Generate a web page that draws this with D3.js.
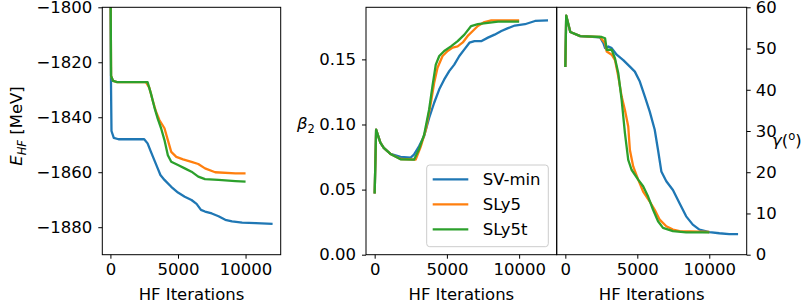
<!DOCTYPE html>
<html><head><meta charset="utf-8">
<script src="https://cdn.jsdelivr.net/npm/d3@7"></script>
<style>
body{margin:0;background:#fff;}
svg{display:block;font-family:"DejaVu Sans",sans-serif;}
</style></head><body>
<svg id="c" width="809" height="305"></svg>
<script>
// ---- data ----
const seriesNames = ["SV-min","SLy5","SLy5t"];
const colors = ["#1f77b4","#ff7f0e","#2ca02c"];
const xTicks = [0,5000,10000];
const eTicks = [-1800,-1820,-1840,-1860,-1880];
const bTicks = [0.00,0.05,0.10,0.15];
const gTicks = [0,10,20,30,40,50,60];

// E_HF [MeV] vs HF iterations
const eSVmin = [[0,-1780],[40,-1826],[80,-1845],[250,-1847.5],[600,-1848],[2500,-1848],[2750,-1849.5],[3000,-1852.6],[3250,-1855.6],[3500,-1858.6],[3700,-1861],[4000,-1862.8],[4500,-1865.3],[5000,-1867.4],[5500,-1868.9],[6000,-1870.1],[6375,-1871.5],[6700,-1873.7],[7000,-1874.3],[7500,-1875],[8000,-1876],[8500,-1877.3],[9000,-1877.9],[9750,-1878.3],[10750,-1878.5],[12000,-1878.8]];
const eSLy5 = [[0,-1780],[50,-1825],[200,-1826.8],[500,-1827.2],[2625,-1827.2],[2875,-1829.2],[3125,-1833.8],[3375,-1838],[3625,-1841],[4000,-1844],[4250,-1848.3],[4500,-1852.6],[4875,-1854.4],[5375,-1855.3],[6000,-1856.2],[6500,-1857],[7000,-1858.6],[7750,-1860],[9250,-1860.4],[10000,-1860.4]];
const eSLy5t = [[0,-1780],[50,-1825],[200,-1826.8],[500,-1827.2],[2750,-1827.2],[3000,-1831.4],[3250,-1836.3],[3500,-1840.5],[3750,-1844],[4000,-1848.3],[4250,-1853.8],[4500,-1856.2],[5000,-1857.4],[5500,-1858.6],[6000,-1859.8],[6500,-1861.6],[7000,-1862.5],[8000,-1862.8],[9250,-1863.2],[10000,-1863.4]];

// beta_2 vs HF iterations
const bSVmin = [[0,0.047],[100,0.096],[395,0.086],[628,0.082],[1093,0.0774],[1790,0.0751],[2490,0.0746],[2720,0.0769],[3070,0.0833],[3420,0.091],[3770,0.105],[4120,0.1167],[4470,0.127],[4815,0.1346],[5160,0.141],[5510,0.146],[5860,0.1526],[6210,0.1577],[6560,0.1628],[6910,0.164],[7370,0.164],[7840,0.1667],[8300,0.169],[8770,0.1718],[9230,0.174],[9700,0.176],[10400,0.177],[11100,0.1795],[12000,0.180]];
const bSLy5 = [[0,0.047],[100,0.096],[395,0.086],[628,0.082],[1093,0.0774],[1790,0.0735],[2840,0.073],[3190,0.083],[3540,0.096],[3890,0.1167],[4120,0.132],[4350,0.1436],[4700,0.1526],[5050,0.1564],[5400,0.159],[5745,0.160],[6100,0.163],[6440,0.168],[6790,0.1718],[7140,0.1756],[7600,0.1787],[8070,0.180],[10000,0.180]];
const bSLy5t = [[0,0.047],[100,0.096],[395,0.086],[628,0.082],[1093,0.0774],[1790,0.0733],[2720,0.073],[3070,0.081],[3420,0.092],[3770,0.1115],[4000,0.1295],[4230,0.146],[4470,0.1526],[4815,0.1564],[5280,0.160],[5745,0.164],[6210,0.169],[6675,0.1756],[7140,0.177],[7840,0.178],[8540,0.179],[10000,0.179]];

// gamma (deg) vs HF iterations
const gSVmin = [[0,45.5],[60,58],[345,54],[1035,53],[2415,52.7],[2645,51.3],[2760,50.1],[2990,50.5],[3220,50.1],[3565,48.5],[4025,47.2],[4485,45.6],[4830,44.4],[5175,42],[5520,38.4],[5865,34.7],[6210,30.3],[6440,25.4],[6670,20.2],[7015,17.8],[7475,15.7],[7935,12.5],[8395,9.3],[8855,7.3],[9315,6.1],[10005,5.5],[10700,5.2],[11385,5.0],[12000,5.0]];
const gSLy5 = [[0,45.5],[60,58],[345,54],[1035,53],[2415,52.8],[2760,51.3],[2875,49.3],[3220,48.5],[3450,47.2],[3680,43.2],[3910,38.4],[4140,35.1],[4370,31.1],[4485,25.4],[4715,21.4],[5060,18.2],[5405,15.3],[5865,12.9],[6210,10.9],[6555,8.5],[7015,6.9],[7475,6.1],[7935,5.7],[10000,5.5]];
const gSLy5t = [[0,45.5],[60,58],[345,54],[1035,53],[2530,52.8],[2760,52.5],[2875,49.7],[3220,49.7],[3450,47.6],[3680,44],[3910,37.6],[4140,29.5],[4370,23],[4600,20.6],[5060,18.2],[5405,16.6],[5750,14.1],[6095,10.9],[6440,8.1],[6785,6.5],[7475,5.7],[8395,5.4],[10000,5.4]];

// ---- drawing ----
const svg = d3.select("#c");
const plotTop = 7.3, plotBottom = 254.7;
const FS = 16.5;
const xDomain = [-600, 12600];

function panel(id, x0, x1, yDomain, yTicks, fmt, data, side){
  const x = d3.scaleLinear().domain(xDomain).range([x0, x1]);
  const y = d3.scaleLinear().domain(yDomain).range([plotBottom, plotTop]);
  const g = svg.append("g");
  g.append("clipPath").attr("id", id).append("rect")
    .attr("x", x0).attr("y", plotTop).attr("width", x1 - x0).attr("height", plotBottom - plotTop);
  const line = d3.line().x(d => x(d[0])).y(d => y(d[1]));
  const lg = g.append("g").attr("clip-path", `url(#${id})`);
  data.forEach((s, i) => {
    lg.append("path").datum(s).attr("d", line)
      .attr("fill", "none").attr("stroke", colors[i]).attr("stroke-width", 2.3)
      .attr("stroke-linejoin", "round").attr("stroke-linecap", "butt");
  });
  g.append("rect").attr("x", x0).attr("y", plotTop).attr("width", x1 - x0).attr("height", plotBottom - plotTop)
    .attr("fill", "none").attr("stroke", "#000").attr("stroke-width", 1);
  const xa = g.append("g").attr("transform", `translate(0,${plotBottom})`)
    .call(d3.axisBottom(x).tickValues(xTicks).tickFormat(d3.format("d")).tickSize(4).tickPadding(5));
  const ya = side === "right"
    ? g.append("g").attr("transform", `translate(${x1},0)`).call(d3.axisRight(y).tickValues(yTicks).tickFormat(fmt).tickSize(4).tickPadding(5))
    : g.append("g").attr("transform", `translate(${x0},0)`).call(d3.axisLeft(y).tickValues(yTicks).tickFormat(fmt).tickSize(4).tickPadding(6));
  [xa, ya].forEach(a => {
    a.select(".domain").remove();
    a.selectAll("line").attr("stroke", "#000");
    a.selectAll("text").attr("font-size", FS).attr("fill", "#000").attr("font-family", "DejaVu Sans");
  });
  g.append("text").attr("x", (x0 + x1) / 2).attr("y", 300).attr("text-anchor", "middle")
    .attr("font-size", FS).text("HF Iterations");
  return {x, y, g};
}

const fmtE = d => d3.format("d")(d).replace("-", "\u2212");
panel("cE", 102.3, 280.7, [-1890, -1800], eTicks, fmtE, [eSVmin, eSLy5, eSLy5t], "left");
panel("cB", 366, 556.7, [0, 0.19], bTicks, d3.format(".2f"), [bSVmin, bSLy5, bSLy5t], "left");
panel("cG", 556.7, 746.7, [0, 60], gTicks, d3.format("d"), [gSVmin, gSLy5, gSLy5t], "right");

// y labels
const eLab = svg.append("text").attr("transform", "translate(22,126) rotate(-90)")
  .attr("text-anchor", "middle").attr("font-size", FS);
eLab.append("tspan").attr("font-style", "italic").text("E");
eLab.append("tspan").attr("font-style", "italic").attr("font-size", FS * 0.7).attr("dy", 4).text("HF");
eLab.append("tspan").attr("dy", -4).text(" [MeV]");

const bLab = svg.append("text").attr("x", 297).attr("y", 129).attr("font-size", FS);
bLab.append("tspan").attr("font-style", "italic").text("β");
bLab.append("tspan").attr("font-size", FS * 0.7).attr("dy", 4).text("2");

const gLab = svg.append("text").attr("x", 772).attr("y", 146).attr("font-size", FS);
gLab.append("tspan").attr("font-style", "italic").text("γ");
gLab.append("tspan").text("(");
gLab.append("tspan").attr("font-size", FS * 0.7).attr("dy", -6).text("o");
gLab.append("tspan").attr("dy", 6).text(")");

// legend
const leg = svg.append("g");
leg.append("rect").attr("x", 426.7).attr("y", 165).attr("width", 121.6).attr("height", 81.7)
  .attr("rx", 3).attr("fill", "#fff").attr("fill-opacity", 0.8).attr("stroke", "#cccccc").attr("stroke-width", 1);
seriesNames.forEach((n, i) => {
  const yy = 179.3 + i * 25;
  leg.append("line").attr("x1", 432.7).attr("x2", 468.3).attr("y1", yy).attr("y2", yy)
    .attr("stroke", colors[i]).attr("stroke-width", 2.3);
  leg.append("text").attr("x", 482.7).attr("y", yy + 6).attr("font-size", FS).text(n);
});
</script>
</body></html>
